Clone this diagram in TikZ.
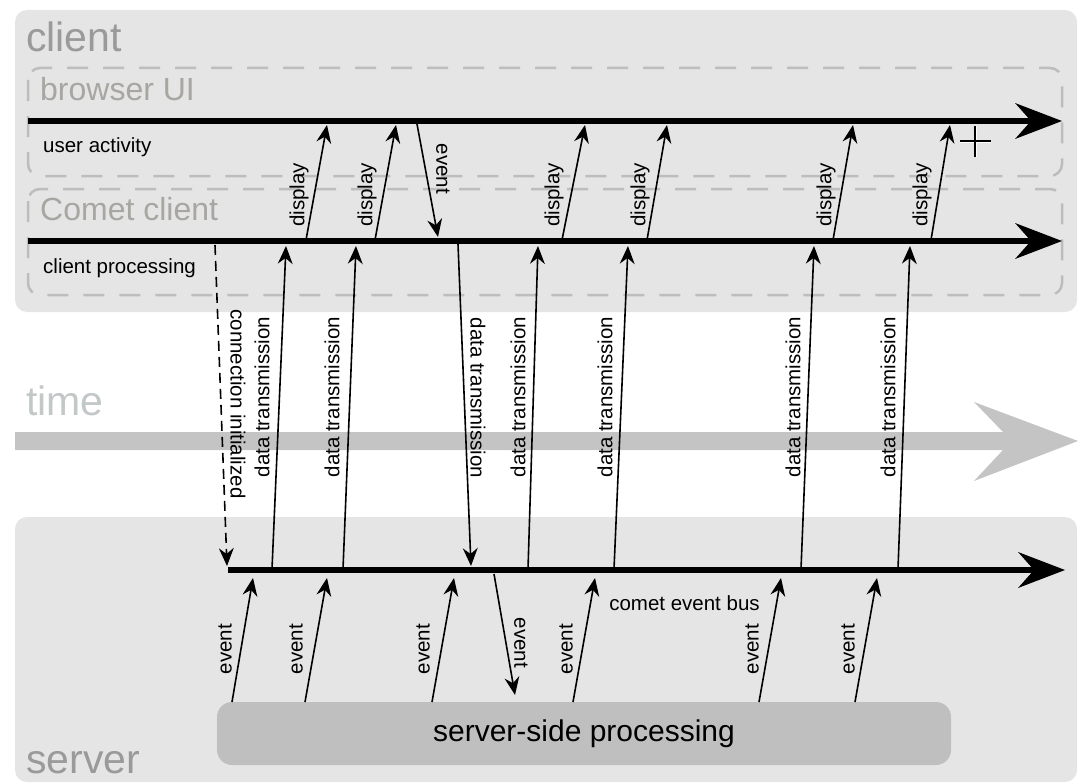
\documentclass[tikz,border=0pt]{standalone}
\usepackage{fontspec}
\setmainfont{Liberation Sans}
\usetikzlibrary{arrows.meta}
\definecolor{boxfill}{HTML}{E5E5E5}
\definecolor{zonelab}{HTML}{9A9A9A}
\definecolor{sublab}{HTML}{A8A6A2}
\definecolor{timecol}{HTML}{C4C4C4}
\definecolor{timelab}{HTML}{C2C7C7}
\definecolor{dashcol}{HTML}{BDBDBD}
\definecolor{procfill}{HTML}{BFBFBF}
\begin{document}
\begin{tikzpicture}[x=1pt,y=-1pt,
  zone/.style={fill=boxfill, rounded corners=12pt},
  lane/.style={draw=dashcol, line width=2.5pt, dash pattern=on 21pt off 15pt, rounded corners=12pt},
  zonelabel/.style={text=zonelab, font=\fontsize{41}{41}\selectfont, anchor=base west, inner sep=0pt},
  lanelabel/.style={text=sublab, font=\fontsize{32}{32}\selectfont, anchor=base west, inner sep=0pt},
  small/.style={font=\fontsize{20.5}{20.5}\selectfont, inner sep=0pt},
  axis/.style={line width=6pt, -{Stealth[length=47pt,width=36pt,inset=16pt,line width=0pt]}},
  msg/.style={line width=1.6pt, -{Stealth[length=18pt,width=15pt,inset=6pt,line width=0pt]}},
  lblup/.style={small, rotate=90},
  lbldown/.style={small, rotate=-90},
]
\useasboundingbox (0,0) rectangle (1079,784);
% zones
\path[zone] (15,10) rectangle (1077,312);
\path[zone] (15,517) rectangle (1077,782);
\draw[lane] (28,68) rectangle (1062,176);
\draw[lane] (28,189) rectangle (1062,295);
% time arrow
\fill[timecol] (15,432) -- (1003,432) -- (974,402) -- (1078,441) -- (974,481) -- (1003,450) -- (15,450) -- cycle;
% zone and lane labels
\node[zonelabel] (clientlbl) at (26,52) {client};
\node[zonelabel] (serverlbl) at (26,773) {server};
\node[zonelabel, text=timelab] (timelbl) at (26,415) {time};
\node[lanelabel] (uilbl) at (40,100) {browser UI};
\node[lanelabel] (cclbl) at (40,220) {Comet client};
\node[small, anchor=west] (ualbl) at (43,147) {user activity};
\node[small, anchor=west] (cplbl) at (43,268) {client processing};
\node[small] (buslbl) at (684.5,603) {comet event bus};
% server-side processing
\node[fill=procfill, rounded corners=15pt, minimum width=734pt, minimum height=63pt, inner sep=0pt,
      font=\fontsize{30}{30}\selectfont] (ssp) at (584,733.5) {server-side processing};
% time lines
\coordinate (ua0) at (28,121);
\coordinate (ua1) at (1062,121);
\coordinate (cp0) at (28,241);
\coordinate (cp1) at (1062,241);
\coordinate (bus0) at (228,570);
\coordinate (bus1) at (1065,570);
\draw[axis] (ua0) -- (ua1);
\draw[axis] (cp0) -- (cp1);
\draw[axis] (bus0) -- (bus1);
% display arrows
\foreach \i/\xa/\xb/\lx in {1/306/327/299, 2/375/396/367, 3/562/585/554, 4/647/667/640, 5/833/853/826, 6/931/950/922} {
  \coordinate (disp\i s) at (\xa,240);
  \coordinate (disp\i e) at (\xb,125);
  \draw[msg] (disp\i s) -- (disp\i e);
  \node[lblup] (displbl\i) at (\lx,195) {display};
}
% event from UI to comet client
\coordinate (uev s) at (417,124);
\coordinate (uev e) at (438,237);
\draw[msg] (uev s) -- (uev e);
\node[lbldown] (uevlbl) at (443,169) {event};
% data transmission up
\foreach \i/\xa/\xb/\lx in {1/272/286/262, 2/343/356/332, 4/528/538/518, 5/614/628/605, 6/801/814/793, 7/898/910/888} {
  \coordinate (dt\i s) at (\xa,569);
  \coordinate (dt\i e) at (\xb,246);
  \draw[msg] (dt\i s) -- (dt\i e);
  \node[lblup] (dtlbl\i) at (\lx,397) {data transmission};
}
% data transmission down
\coordinate (dt3s) at (458,244);
\coordinate (dt3e) at (471,566);
\draw[msg] (dt3s) -- (dt3e);
\node[lbldown] (dtlbl3) at (478,398) {data transmission};
% connection initialized
\coordinate (cis) at (215,245);
\coordinate (cie) at (227,566);
\draw[msg, dash pattern=on 10pt off 6pt] (cis) -- (cie);
\node[lbldown] (cilbl) at (238,404) {connection initialized};
% events from server-side processing
\foreach \i/\xa/\xb/\lx in {1/232/253/225, 2/305/327/296, 3/432/454/423, 5/573/595/566, 6/759/781/752, 7/855/877/848} {
  \coordinate (sev\i s) at (\xa,702);
  \coordinate (sev\i e) at (\xb,578);
  \draw[msg] (sev\i s) -- (sev\i e);
  \node[lblup] (sevlbl\i) at (\lx,649) {event};
}
\coordinate (sev4s) at (494,574);
\coordinate (sev4e) at (515,695);
\draw[msg] (sev4s) -- (sev4e);
\node[lbldown] (sevlbl4) at (521,643) {event};
% cursor cross
\coordinate (crossc) at (975,141);
\draw[white, line width=3pt] ([xshift=-15pt]crossc) -- ([xshift=16pt]crossc) ([yshift=-16pt]crossc) -- ([yshift=15pt]crossc);
\draw[black, line width=1.3pt] ([xshift=-15pt]crossc) -- ([xshift=16pt]crossc) ([yshift=-16pt]crossc) -- ([yshift=15pt]crossc);
\end{tikzpicture}
\end{document}
